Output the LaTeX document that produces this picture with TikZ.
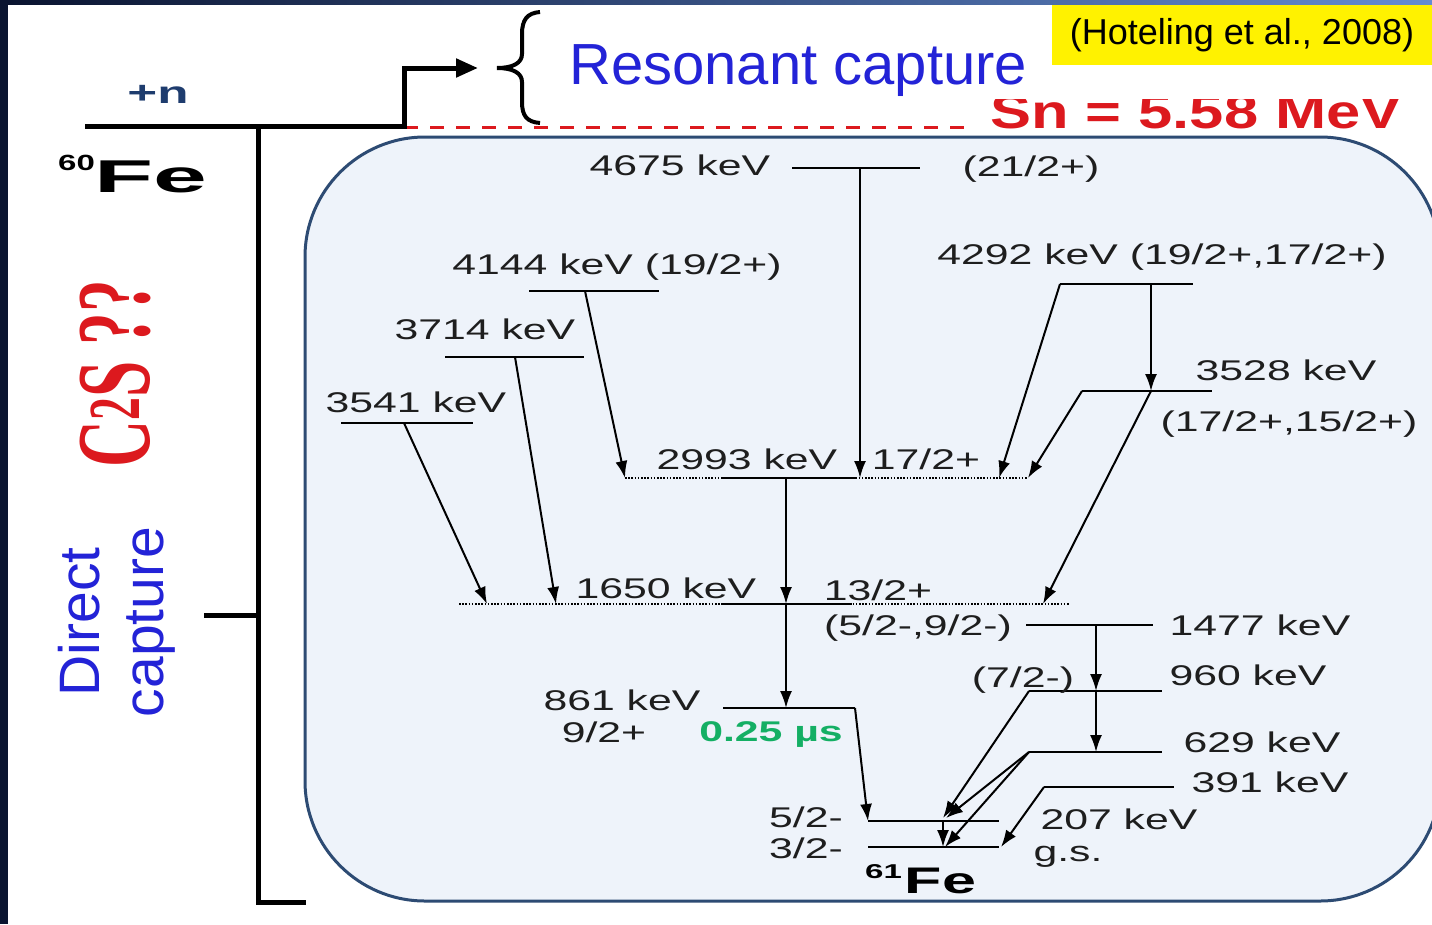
\documentclass[tikz,border=0pt]{standalone}
\usepackage{fontspec}
\setmainfont{Liberation Sans}
\newfontfamily\levelfont[FakeStretch=1.5]{Liberation Sans}
\newfontfamily\isofont[FakeStretch=1.65]{Liberation Sans}
\newfontfamily\isowide[FakeStretch=2.1]{Liberation Sans}
\newfontfamily\snfont[FakeStretch=1.28]{Liberation Sans}
\newfontfamily\csfont[FakeStretch=0.62]{Liberation Serif}
\usetikzlibrary{arrows.meta}

\definecolor{ink}{RGB}{30,30,30}
\definecolor{navy}{RGB}{10,20,48}
\definecolor{topblue}{RGB}{100,140,210}
\definecolor{boxfill}{RGB}{238,243,250}
\definecolor{boxline}{RGB}{45,75,115}
\definecolor{capblue}{RGB}{35,35,215}
\definecolor{snred}{RGB}{220,25,30}
\definecolor{tgreen}{RGB}{20,175,100}
\definecolor{plusblue}{RGB}{30,60,110}

\begin{document}
\begin{tikzpicture}[x=1pt,y=-1pt,
    level/.style={line width=2pt},
    dotlevel/.style={line width=1.3pt, dash pattern=on 1.6pt off 1.6pt},
    gline/.style={line width=2pt, -{Latex[length=17pt,width=12pt]}},
    lbl/.style={font=\levelfont\fontsize{28.5}{30}\selectfont, inner sep=0pt,
                text=ink, text height=20.5pt, text depth=0pt}]
\path[use as bounding box] (0,0) rectangle (1432,924);
\clip (0,0) rectangle (1432,924);

% frame
\fill[navy] (0,0) rectangle (1432,924);
\shade[left color=navy, right color=topblue] (8,0) rectangle (1432,5);
\fill[white] (8,5) rectangle (1432,924);

% level box
\draw[line width=3pt, draw=boxline, fill=boxfill, rounded corners=120pt] (305,137) rectangle (1440,901);

% neutron separation energy
\draw[snred, line width=3pt, dash pattern=on 14pt off 12pt] (404,127) -- (966,127);
\begin{scope}
  \clip (980,99) rectangle (1420,140);
  \node[anchor=base west, inner sep=0pt, text=snred, font=\snfont\bfseries\fontsize{48}{48}\selectfont] (sn) at (990,128) {Sn = 5.58 MeV};
\end{scope}

% 60Fe + n
\coordinate (n60) at (85,126);
\coordinate (kink) at (404,126);
\coordinate (res) at (478,68);
\draw[line width=5pt, -{Triangle[length=22pt,width=18pt]}] (n60) -- (kink) |- (res);
\node[anchor=base, inner sep=0pt, text=plusblue, font=\isofont\bfseries\fontsize{31}{31}\selectfont] (plusn) at (158,103) {+n};
\draw[line width=4pt] (540,12) .. controls (527,13) and (522,20) .. (522,34) -- (522,54)
  .. controls (522,63) and (513,68) .. (497,68) .. controls (513,68) and (522,73) .. (522,82)
  -- (522,102) .. controls (522,116) and (527,122) .. (540,123);
\node[anchor=base west, inner sep=0pt, text=capblue, font=\fontsize{58}{58}\selectfont] (rescap) at (569,84) {Resonant capture};
\node[fill=yellow, minimum width=380pt, minimum height=60pt, inner sep=0pt, font=\fontsize{36}{36}\selectfont] (cite) at (1242,35) {(Hoteling et al., 2008)};

% direct capture bracket
\draw[line width=5pt] (258,126) -- (258,902) -- (306,902);
\draw[line width=5pt] (204,615) -- (258,615);
\node[anchor=base west, inner sep=0pt, font=\bfseries] (fe60) at (58,192)
  {\levelfont\raisebox{22pt}{\fontsize{22}{22}\selectfont 60}\isowide\fontsize{46}{46}\selectfont Fe};
\node[rotate=90, anchor=base, inner sep=0pt, text=snred, font=\csfont\bfseries\fontsize{105}{105}\selectfont] (c2s) at (149,374) {C\textsuperscript{2}S ??};
\node[rotate=90, align=center, inner sep=0pt, text=capblue, font=\fontsize{57}{64}\selectfont] (dircap) at (117,622) {Direct\\capture};

% levels
\foreach \y/\xa/\xb in {168/792/920, 291/529/659, 357/445/584, 423/341/473, 284/1060/1193,
    391/1082/1212, 625/1026/1153, 691/1029/1162, 708/723/855, 752/1029/1162, 787/1044/1174,
    821/868/999, 847/868/999, 478/721/856, 604/721/852}
  \draw[level] (\xa,\y) -- (\xb,\y);
\draw[dotlevel] (625,478) -- (1028,478);
\draw[dotlevel] (459,604) -- (1069,604);

% transition end points
\foreach \n/\x/\y in {p4675/860/168, q2993/860/478, p4144/585/291, r2993/625/478,
    p3714/515/357, q1650/556/604, p3541/404/423, r1650/487/604,
    p4292a/1060/284, s2993/999/478, p4292b/1151/284, q3528/1151/391,
    p3528/1082/391, t2993/1028/478, s1650/1043/604,
    p2993/786/478, p1650/786/604, q861/786/708, p861/855/708, q207/868/821,
    p1477/1096/625, q960/1096/691, q629/1096/752,
    p960/1029/691, r207/943/818, p629/1029/752, s207/946/818, qgs/945/847,
    t207/943/821, rgs/943/847, p391/1044/787, sgs/1001/847}
  \coordinate (\n) at (\x,\y);

% gamma transitions
\foreach \a/\b in {p4675/q2993, p4144/r2993, p3714/q1650, p3541/r1650, p4292a/s2993,
    p4292b/q3528, p3528/t2993, q3528/s1650, p2993/p1650, p1650/q861, p861/q207,
    p1477/q960, q960/q629, p960/r207, p629/s207, p629/qgs, t207/rgs, p391/sgs}
  \draw[gline] (\a) -- (\b);

% labels
\node[lbl] (t4675) at (680,165) {4675 keV};
\node[lbl] (j4675) at (1031,166) {(21/2+)};
\node[lbl] (t4144) at (617,264) {4144 keV (19/2+)};
\node[lbl] (t3714) at (485,329) {3714 keV};
\node[lbl] (t3541) at (416,402) {3541 keV};
\node[lbl] (t4292) at (1162,254) {4292 keV (19/2+,17/2+)};
\node[lbl] (t3528) at (1286,370) {3528 keV};
\node[lbl] (j3528) at (1289,421) {(17/2+,15/2+)};
\node[lbl] (t2993) at (747,459) {2993 keV};
\node[lbl] (j2993) at (926,459) {17/2+};
\node[lbl] (t1650) at (666,588) {1650 keV};
\node[lbl] (j1650) at (878,590) {13/2+};
\node[lbl] (j1477) at (918,625) {(5/2-,9/2-)};
\node[lbl] (t1477) at (1260,625) {1477 keV};
\node[lbl] (j960) at (1023,677) {(7/2-)};
\node[lbl] (t960) at (1248,675) {960 keV};
\node[lbl] (t861) at (622,700) {861 keV};
\node[lbl] (j861) at (604,732) {9/2+};
\node[lbl, text=tgreen, font=\levelfont\bfseries\fontsize{28.5}{30}\selectfont] (tau861) at (771,731) {0.25 µs};
\node[lbl] (t629) at (1262,742) {629 keV};
\node[lbl] (t391) at (1270,782) {391 keV};
\node[lbl] (j207) at (806,817) {5/2-};
\node[lbl] (l207) at (1119,819) {207 keV};
\node[lbl] (jgs) at (806,848) {3/2-};
\node[lbl] (tgs) at (1068,851) {g.s.};
\node[anchor=base west, inner sep=0pt, font=\bfseries] (fe61) at (865,893)
  {\isofont\raisebox{15pt}{\fontsize{20}{20}\selectfont 61}\hspace{3pt}\fontsize{37}{37}\selectfont Fe};
\end{tikzpicture}
\end{document}
